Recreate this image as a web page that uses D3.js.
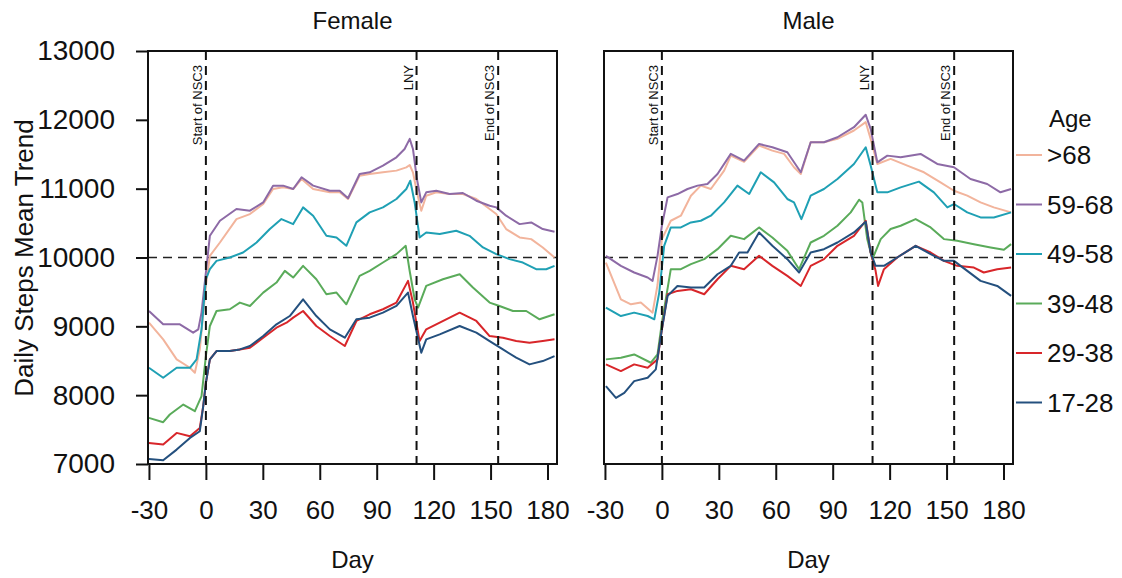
<!DOCTYPE html>
<html>
<head>
<meta charset="utf-8">
<script src="https://cdn.jsdelivr.net/npm/d3@7"></script>
<style>
body{margin:0;background:#fff;}
svg text{font-family:"Liberation Sans",Arial,sans-serif;fill:#111;}
</style>
</head>
<body>
<svg id="graph"></svg>
<script>
// values: [day, daily steps mean trend]
var ageGroups=[">68","59-68","49-58","39-48","29-38","17-28"]
var ageColors=["#f2b49c","#8d6aa6","#1fa0b4","#5aab5a","#d8262a","#24507e"]
var dayTicks=[-30,0,30,60,90,120,150,180]
var stepTicks=[7000,8000,9000,10000,11000,12000,13000]
var events=[{day:0,label:"Start of NSC3"},{day:111,label:"LNY"},{day:154,label:"End of NSC3"}]

var female68=[[-30,9053],[-22.5,8811],[-15.4,8520],[-8.4,8398],[-5.8,8325],[-3.2,8665],[0,9587],[2.1,10024],[7.4,10218],[16.1,10558],[23.2,10631],[30.2,10777],[35.4,10995],[40.7,11020],[46,10995],[50.4,11140],[56.5,10995],[65.3,10947],[70.5,10947],[74.9,10850],[81,11189],[86.3,11213],[93.3,11238],[100.4,11262],[105.6,11310],[107.4,11344],[109.1,11238],[111.2,10947],[113.5,10680],[116.1,10898],[121.4,10947],[128.4,10922],[135.4,10922],[142.5,10850],[149.5,10704],[153,10631],[158.2,10413],[165.3,10291],[171.4,10267],[177.5,10146],[183.7,10000]]
var female59=[[-30,9223],[-22.5,9029],[-13.7,9029],[-6.7,8908],[-4,8956],[-2.3,9200],[0,9782],[2.1,10315],[7.4,10534],[16.1,10704],[23.2,10680],[30.2,10800],[35.4,11044],[40.7,11044],[46,10995],[50.4,11165],[56.5,11044],[65.3,10970],[70.5,10970],[74.9,10860],[81,11213],[86.3,11238],[93.3,11335],[100.4,11456],[104.7,11577],[107.4,11723],[109.1,11577],[111.2,11140],[113.5,10800],[116.1,10947],[121.4,10970],[128.4,10922],[135.4,10937],[142.5,10825],[149.5,10752],[153,10728],[158.2,10607],[165.3,10485],[171.4,10510],[177.5,10413],[183.7,10374]]
var female49=[[-30,8398],[-22.5,8253],[-15.4,8398],[-8.4,8398],[-4.9,8520],[-2.3,8956],[0,9684],[2.1,9830],[5.6,9951],[12.6,10000],[19.6,10073],[26.7,10218],[33.7,10413],[39.8,10558],[46,10485],[51.2,10728],[56.5,10607],[63.5,10315],[68.8,10291],[74,10170],[79.3,10510],[86.3,10655],[93.3,10728],[100.4,10850],[105.6,10995],[107.7,11116],[110,10800],[112.6,10291],[116.1,10364],[123.2,10340],[131.9,10388],[138.9,10315],[146,10146],[153,10049],[160,9976],[167,9927],[174,9830],[179.3,9830],[183.7,9879]]
var female39=[[-30,7670],[-22.5,7607],[-19,7719],[-11.9,7864],[-5.8,7767],[-2.3,7985],[0,8568],[2.1,9005],[5.6,9223],[12.6,9248],[17.9,9345],[23.2,9296],[30.2,9490],[37.2,9636],[41.6,9806],[46,9709],[51.2,9879],[58.2,9684],[63.5,9466],[68.8,9490],[74,9320],[81,9733],[86.3,9806],[93.3,9927],[100.4,10049],[105.3,10170],[107.4,9800],[110,9393],[111.8,9272],[116.1,9587],[124.9,9684],[133.7,9757],[140.7,9563],[149.5,9345],[154.7,9296],[161.8,9223],[168.8,9223],[175.8,9102],[183.7,9175]]
var female29=[[-30,7306],[-22.5,7282],[-15.4,7452],[-8.4,7403],[-3.2,7524],[-1.4,7840],[0,8180],[2.1,8520],[5.6,8641],[12.6,8641],[17.9,8665],[23.2,8689],[30.2,8835],[37.2,8980],[42.5,9053],[46,9126],[51.2,9223],[58.2,9005],[65.3,8859],[73.2,8714],[79.3,9078],[86.3,9175],[93.3,9248],[100.4,9345],[106.5,9660],[109.1,9345],[112.6,8786],[116.1,8956],[123.2,9053],[133.7,9199],[142.5,9078],[149.5,8859],[156.5,8835],[163.5,8786],[170.5,8762],[177.5,8786],[183.7,8811]]
var female17=[[-30,7073],[-22.5,7054],[-15.4,7209],[-8.4,7379],[-3.2,7476],[-1.4,7840],[0,8180],[2.1,8520],[5.6,8641],[12.6,8641],[17.9,8665],[23.2,8714],[30.2,8859],[37.2,9029],[44.2,9150],[51.2,9393],[58.2,9150],[65.3,8956],[73.2,8835],[79.3,9102],[86.3,9126],[93.3,9199],[100.4,9296],[106.5,9490],[109.1,9150],[113.5,8617],[116.1,8811],[123.2,8884],[133.7,9005],[142.5,8908],[149.5,8786],[156.5,8665],[163.5,8544],[170.5,8447],[177.5,8495],[183.7,8568]]

var male68=[[-29.5,9927],[-21.6,9393],[-16.3,9320],[-11.1,9345],[-4.9,9199],[-2.3,9600],[0,10267],[4.7,10534],[10,10607],[15.3,10898],[20.5,11044],[25.8,10995],[32.8,11262],[36.3,11480],[43.3,11390],[51.2,11626],[58.2,11553],[64.4,11505],[69.6,11311],[73.2,11213],[78.4,11674],[85.4,11674],[92.5,11723],[101.2,11845],[107.4,11966],[110,11723],[113.5,11359],[120.5,11432],[129.3,11335],[138.1,11238],[146.8,11092],[153.9,10970],[160.9,10898],[167.9,10801],[174.9,10728],[184,10655]]
var male59=[[-29.5,10024],[-21.6,9879],[-14.6,9782],[-7.5,9709],[-4.9,9660],[-2.3,10024],[0,10461],[3,10874],[8.2,10922],[13.5,10995],[18.8,11044],[24,11068],[29.3,11213],[36.3,11505],[43.3,11408],[51.2,11650],[58.2,11602],[66.1,11529],[73.2,11238],[78.4,11674],[85.4,11674],[92.5,11747],[101.2,11893],[107.4,12073],[110,11869],[113.5,11383],[118.8,11480],[125.8,11456],[136.3,11505],[145.1,11359],[153.9,11311],[162.6,11140],[171.4,11068],[178.4,10947],[184,10995]]
var male49=[[-29.5,9272],[-21.6,9150],[-14.6,9199],[-7.5,9150],[-4,9102],[-1.4,9490],[1.2,10170],[4.7,10437],[10,10437],[15.3,10510],[20.5,10534],[25.8,10607],[32.8,10801],[39.8,11044],[46,10922],[52.1,11238],[59.1,11092],[66.1,10850],[69.6,10801],[73.5,10558],[78.4,10898],[85.4,10995],[92.5,11140],[101.2,11359],[107.4,11602],[110,11335],[113.5,10947],[118.8,10947],[125.8,11019],[135.4,11102],[143.3,10947],[150.4,10728],[153.9,10777],[160.9,10655],[167.9,10582],[174.9,10582],[184,10655]]
var male39=[[-29.5,8520],[-21.6,8544],[-14.6,8592],[-5.8,8471],[-2.3,8592],[0,9053],[4.7,9830],[10,9830],[15.3,9903],[22.3,9976],[29.3,10121],[36.3,10315],[43.3,10267],[51.2,10437],[58.2,10291],[66.1,10097],[72.3,9830],[78.4,10218],[85.4,10315],[92.5,10461],[99.5,10655],[103.9,10840],[105.6,10800],[108.2,10267],[110.9,9976],[115.3,10267],[120.5,10413],[125.8,10461],[133.7,10558],[141.6,10437],[148.6,10267],[155.6,10243],[164.4,10194],[173.2,10146],[180.2,10112],[184,10194]]
var male29=[[-29.5,8447],[-21.6,8350],[-14.6,8447],[-7.5,8398],[-2.3,8520],[0,8956],[3,9466],[8.2,9515],[15.3,9539],[22.3,9466],[29.3,9684],[36.3,9879],[43.3,9830],[51.2,10024],[58.2,9879],[66.1,9733],[73.2,9587],[78.4,9879],[85.4,9976],[92.5,10170],[101.2,10315],[107.4,10534],[110,10073],[112.6,9806],[113.9,9587],[117,9830],[124,10000],[133.7,10170],[141.6,10073],[148.6,9951],[155.6,9879],[164.4,9854],[169.6,9782],[176.7,9830],[184,9854]]
var male17=[[-29.5,8131],[-24.2,7961],[-19.8,8034],[-14.6,8204],[-7.5,8253],[-3.2,8374],[0,8956],[3,9442],[8.2,9587],[15.3,9563],[22.3,9563],[29.3,9757],[36.3,9879],[40.7,10073],[45.1,10073],[51.2,10364],[58.2,10170],[66.1,9976],[72.3,9782],[78.4,10073],[85.4,10121],[92.5,10218],[101.2,10364],[107.4,10519],[110,10073],[112.6,9879],[117,9879],[124,10000],[133.7,10170],[141.6,10049],[148.6,9951],[153.9,9951],[160.9,9806],[167.9,9660],[176.7,9587],[184,9442]]

var panels=[
    {title:"Female",left:148,series:[female68,female59,female49,female39,female29,female17],yAxis:true},
    {title:"Male",left:604,series:[male68,male59,male49,male39,male29,male17],yAxis:false}
]

var screen={width:1122,height:578}
var plot={top:51,width:409,height:413}

var svg=d3.select("#graph")
    .attr("width",screen.width)
    .attr("height",screen.height)

var yScale=d3.scaleLinear()
    .domain([7000,13000])
    .range([plot.top+plot.height,plot.top])

// plain hyphen for negatives, like the original
var plainNum=function(d){return String(d)}

var drawPanel=function(panel,i)
    {
        var xScale=d3.scaleLinear()
            .domain([-30.5,185])
            .range([panel.left,panel.left+plot.width])

        svg.append("clipPath")
            .attr("id","clip"+i)
            .append("rect")
            .attr("x",panel.left)
            .attr("y",plot.top)
            .attr("width",plot.width)
            .attr("height",plot.height)

        var g=svg.append("g").attr("clip-path","url(#clip"+i+")")

        // reference line at 10000 steps
        g.append("line")
            .attr("x1",panel.left)
            .attr("x2",panel.left+plot.width)
            .attr("y1",yScale(10000))
            .attr("y2",yScale(10000))
            .attr("stroke","#222")
            .attr("stroke-width",1.6)
            .attr("stroke-dasharray","9,6")

        var lineGen=d3.line()
            .x(function(d){return xScale(d[0])})
            .y(function(d){return yScale(d[1])})

        g.selectAll("path.trend")
            .data(panel.series)
            .enter()
            .append("path")
            .classed("trend",true)
            .attr("d",lineGen)
            .attr("fill","none")
            .attr("stroke",function(d,k){return ageColors[k]})
            .attr("stroke-width",2)
            .attr("stroke-linejoin","round")

        // event markers
        g.selectAll("line.event")
            .data(events)
            .enter()
            .append("line")
            .classed("event",true)
            .attr("x1",function(e){return xScale(e.day)})
            .attr("x2",function(e){return xScale(e.day)})
            .attr("y1",plot.top)
            .attr("y2",plot.top+plot.height)
            .attr("stroke","#111")
            .attr("stroke-width",2)
            .attr("stroke-dasharray","9,6")

        svg.selectAll("text.event"+i)
            .data(events)
            .enter()
            .append("text")
            .attr("class","event"+i)
            .attr("transform",function(e){return "translate("+(xScale(e.day)-4)+","+(plot.top+14)+") rotate(-90)"})
            .attr("text-anchor","end")
            .style("font-size","13px")
            .text(function(e){return e.label})

        // frame
        svg.append("rect")
            .attr("x",panel.left)
            .attr("y",plot.top)
            .attr("width",plot.width)
            .attr("height",plot.height)
            .attr("fill","none")
            .attr("stroke","#111")
            .attr("stroke-width",2)

        var xAxis=svg.append("g")
            .attr("transform","translate(0,"+(plot.top+plot.height)+")")
            .call(d3.axisBottom(xScale).tickValues(dayTicks).tickSize(16).tickPadding(21).tickFormat(plainNum))
        xAxis.select(".domain").remove()
        xAxis.selectAll("line").attr("stroke","#111").attr("stroke-width",2)
        xAxis.selectAll("text").style("font-size","26px").attr("fill","#111")

        if(panel.yAxis)
            {
                var yAxis=svg.append("g")
                    .attr("transform","translate("+panel.left+",0)")
                    .call(d3.axisLeft(yScale).tickValues(stepTicks).tickSize(12).tickPadding(21).tickFormat(plainNum))
                yAxis.select(".domain").remove()
                yAxis.selectAll("line").attr("stroke","#111").attr("stroke-width",2)
                yAxis.selectAll("text").style("font-size","28px").attr("fill","#111")
            }

        svg.append("text")
            .attr("x",panel.left+plot.width/2)
            .attr("y",29)
            .attr("text-anchor","middle")
            .style("font-size","24px")
            .text(panel.title)

        svg.append("text")
            .attr("x",panel.left+plot.width/2)
            .attr("y",568)
            .attr("text-anchor","middle")
            .style("font-size","24px")
            .text("Day")
    }

panels.forEach(drawPanel)

svg.append("text")
    .attr("transform","translate(33,258) rotate(-90)")
    .attr("text-anchor","middle")
    .style("font-size","26px")
    .text("Daily Steps Mean Trend")

// legend
var legend=svg.append("g")
legend.append("text")
    .attr("x",1049)
    .attr("y",127)
    .style("font-size","24px")
    .text("Age")
var items=legend.selectAll("g.item")
    .data(ageGroups)
    .enter()
    .append("g")
    .classed("item",true)
    .attr("transform",function(d,k){return "translate(0,"+(155+49.5*k)+")"})
items.append("line")
    .attr("x1",1016)
    .attr("x2",1042)
    .attr("stroke",function(d,k){return ageColors[k]})
    .attr("stroke-width",2)
items.append("text")
    .attr("x",1047)
    .attr("y",9)
    .style("font-size","26px")
    .text(function(d){return d})
</script>
</body>
</html>
